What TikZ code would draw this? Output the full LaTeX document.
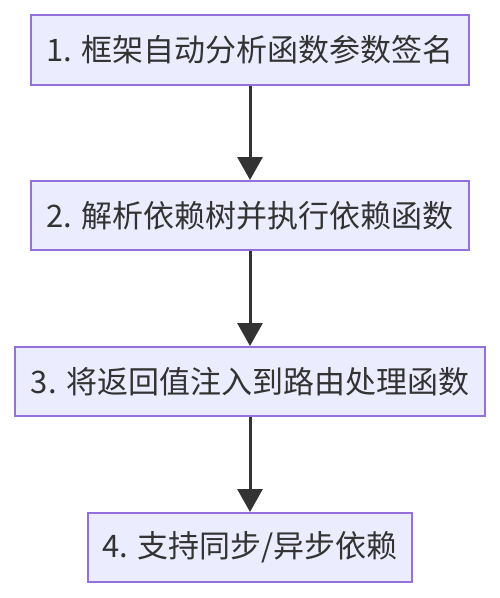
\documentclass[tikz,border=0pt]{standalone}
\usepackage{fontspec}
\setmainfont{Noto Sans CJK SC}
\usetikzlibrary{arrows.meta}
\definecolor{boxfill}{HTML}{ECECFF}
\definecolor{boxline}{HTML}{9370DB}
\definecolor{txt}{HTML}{333333}
\begin{document}
\begin{tikzpicture}[x=1pt,y=-1pt,
  stepbox/.style={draw=boxline,fill=boxfill,line width=2pt,text=txt,font=\fontsize{31}{34}\selectfont,inner sep=0pt,anchor=center},
  link/.style={draw=txt,line width=3pt,-{Triangle[width=25pt,length=23pt]}}]
\useasboundingbox (0,0) rectangle (500,598);
\node[stepbox,minimum width=438pt,minimum height=70pt] (n1) at (250,50) {1. 框架自动分析函数参数签名};
\node[stepbox,minimum width=438pt,minimum height=69pt] (n2) at (250,215.5) {2. 解析依赖树并执行依赖函数};
\node[stepbox,minimum width=470pt,minimum height=69pt] (n3) at (250,381.5) {3. 将返回值注入到路由处理函数};
\node[stepbox,minimum width=324pt,minimum height=69pt] (n4) at (250,547.5) {4. 支持同步/异步依赖};
\draw[link] (n1.south) -- (n2.north);
\draw[link] (n2.south) -- (n3.north);
\draw[link] (n3.south) -- (n4.north);
\end{tikzpicture}
\end{document}
